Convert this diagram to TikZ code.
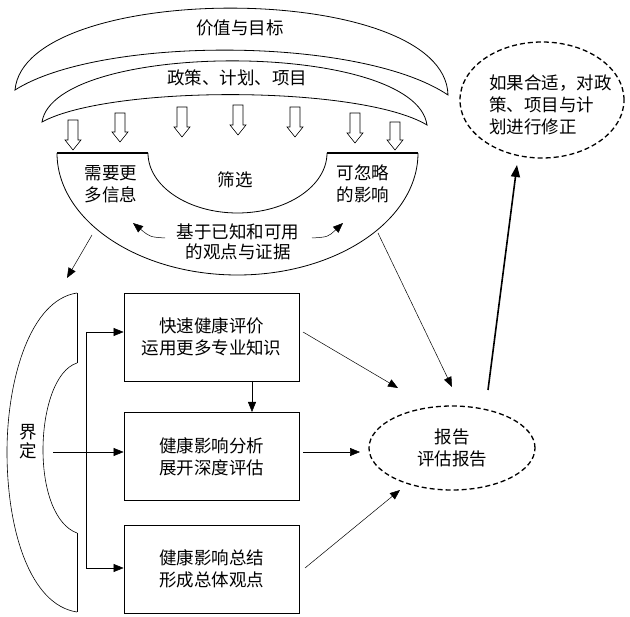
\documentclass[tikz,border=0pt]{standalone}
\usepackage{fontspec}
\newfontfamily\cjk{Noto Sans CJK SC}
\usetikzlibrary{arrows.meta,shapes.geometric}
\begin{document}
\begin{tikzpicture}[x=1pt,y=-1pt,
  txt/.style={font=\cjk\fontsize{17.5}{22}\selectfont, align=center, inner sep=0pt},
  box/.style={draw, line width=0.8pt, minimum width=175pt, minimum height=88pt, txt},
  arr/.style={-{Triangle[length=10pt,width=8pt]}, line width=0.5pt},
  thickarr/.style={-{Triangle[length=12pt,width=9pt]}, line width=1.6pt},
  dashell/.style={draw, ellipse, dash pattern=on 5pt off 3pt, line width=1.3pt, inner sep=0pt},
  outline/.style={line width=0.8pt},
  hollow/.style={line width=0.6pt}
]
\useasboundingbox (0,0) rectangle (630,617);

% crescents
\draw[outline] (15,90) .. controls (25,-20) and (445,-20) .. (448,95)
  .. controls (360,36) and (100,36) .. cycle;
\draw[outline] (42,122) .. controls (55,40) and (415,40) .. (427,125)
  .. controls (360,85) and (110,85) .. cycle;
\node[txt] (values) at (240,28) {价值与目标};
\node[txt] (policy) at (237,78) {政策、计划、项目};

% hollow arrows
\foreach \x/\t/\b in {73/120/150, 120/113/142, 182/107/137, 238/105/135, 295/107/137, 355/113/143, 395/122/150}{
  \draw[hollow] (\x-5,\t) -- (\x+5,\t) -- (\x+5,\b-10) -- (\x+8,\b-10) -- (\x,\b)
     -- (\x-8,\b-10) -- (\x-5,\b-10) -- cycle;
}

% bowl
\draw[outline] (148,153) .. controls (148,186) and (188,213) .. (237.5,213)
  .. controls (287,213) and (327,186) .. (327,153);
\draw[outline] (418,153) .. controls (418,220) and (337,275) .. (237.5,275)
  .. controls (138,275) and (57,220) .. (57,153);
\draw[line width=1.8pt] (57,153) -- (148,153);
\draw[line width=1.8pt] (327,153) -- (418,153);

\node[txt] (more) at (111,184) {需要更\\多信息};
\node[txt] (screen) at (235,180) {筛选};
\node[txt] (negl) at (363,184) {可忽略\\的影响};
\node[txt, font=\cjk\fontsize{17.5}{20}\selectfont] (basis) at (238,242) {基于已知和可用\\的观点与证据};

\coordinate (lc0) at (165,238);
\coordinate (lc1) at (133,223);
\coordinate (rc0) at (312,238);
\coordinate (rc1) at (343,223);
\draw[arr] (lc0) .. controls (150,237) .. (lc1);
\draw[arr] (rc0) .. controls (328,237) .. (rc1);

% left bracket
\draw[line width=0.6pt] (77,293) .. controls (30,300) and (7,380) .. (7,452)
  .. controls (7,530) and (30,605) .. (77,612);
\draw[line width=0.6pt] (77,363) .. controls (55,370) and (43,410) .. (43,450)
  .. controls (43,490) and (55,525) .. (77,533);
\draw[line width=0.5pt] (77,293) -- (77,363);
\draw[line width=0.5pt] (77,533) -- (77,612);
\node[txt, font=\cjk\fontsize{17.5}{19}\selectfont] (define) at (28,442) {界\\定};

% boxes
\node[box] (b1) at (211.5,337) {快速健康评价\\运用更多专业知识};
\node[box] (b2) at (211.5,456.5) {健康影响分析\\展开深度评估};
\node[box] (b3) at (211.5,569) {健康影响总结\\形成总体观点};

% report ellipse and revise ellipse
\node[dashell, minimum width=166pt, minimum height=84pt] (rep) at (452,448) {};
\node[txt] (reptxt) at (452,448) {报告\\评估报告};
\node[dashell, minimum width=164pt, minimum height=116pt] (rev) at (542,100) {};
\node[txt, align=left, anchor=west] (revtxt) at (489,105) {如果合适，对政\\策、项目与计\\划进行修正};

% connectors
\coordinate (fork) at (86,452);
\coordinate (bowlL) at (92,235);
\coordinate (bowlLend) at (67,278);
\coordinate (bowlR) at (378,233);
\coordinate (repTop) at (452,387);
\coordinate (r1) at (398,388);
\coordinate (r2) at (360,452);
\coordinate (r3) at (400,490);
\coordinate (repUp) at (488,390);
\coordinate (revBot) at (517,165);

\draw[arr] (bowlL) -- (bowlLend);
\draw[arr] (bowlR) -- (repTop);

\draw[arr] (53,452) -- (b2.west |- fork);
\draw[line width=0.5pt] (86,332) -- (86,568);
\draw[arr] (86,332) -- (b1.west |- 0,332);
\draw[arr] (86,568) -- (b3.west |- 0,568);
\draw[arr] (252,381) -- (252,412);

\draw[arr] (303,332) -- (r1);
\draw[arr] (303,452) -- (r2);
\draw[arr] (305,568) -- (r3);
\draw[thickarr] (repUp) -- (revBot);
\end{tikzpicture}
\end{document}
